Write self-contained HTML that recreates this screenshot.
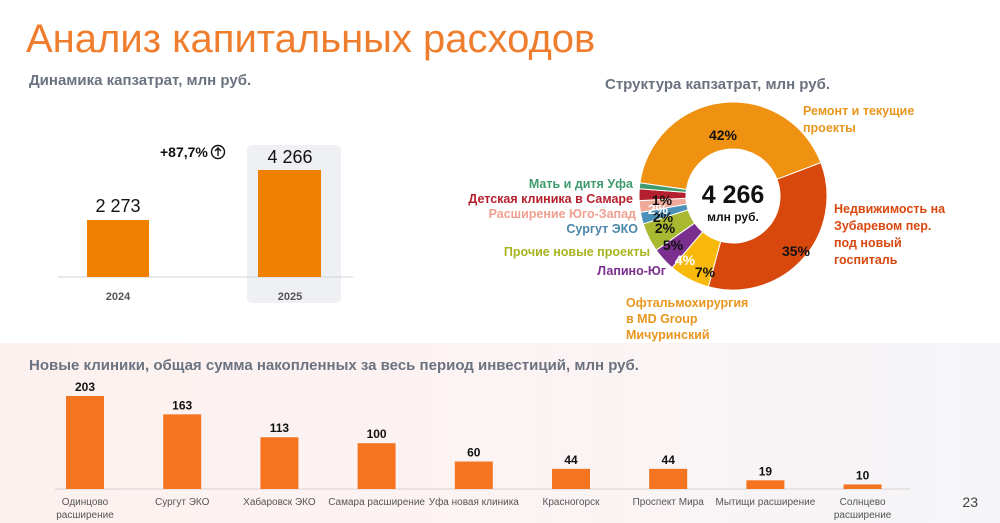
<!DOCTYPE html>
<html><head><meta charset="utf-8">
<style>
html,body{margin:0;padding:0}
body{width:1000px;height:523px;overflow:hidden;position:relative;background:#fff;font-family:"Liberation Sans",sans-serif}
.bg{position:absolute;left:0;top:343px;width:1000px;height:180px;
background:radial-gradient(ellipse 320px 110px at 330px 470px,rgba(248,150,100,0.45),rgba(248,170,140,0) 100%),
radial-gradient(ellipse 500px 150px at 200px 450px,rgba(250,190,170,0.35),rgba(255,255,255,0) 100%),
linear-gradient(90deg,#fdf1ef,#fcf3f3 50%,#f5f5f8);}
svg{position:absolute;left:0;top:0}
</style></head><body>
<div class="bg"></div>
<svg width="1000" height="523" viewBox="0 0 1000 523" font-family="Liberation Sans, sans-serif">
<text x="26" y="52" font-size="40" fill="#ef7d2e">Анализ капитальных расходов</text>
<text x="29" y="85" font-size="15" font-weight="bold" fill="#6b7380">Динамика капзатрат, млн руб.</text>
<rect x="247" y="145" width="94" height="158" rx="5" fill="#eef0f4"/>
<line x1="58" y1="277" x2="353" y2="277" stroke="#cfd3da" stroke-width="1"/>
<rect x="87" y="220" width="62" height="57" fill="#f08000"/>
<rect x="258" y="170" width="63" height="107" fill="#f08000"/>
<text x="118" y="212" font-size="18" text-anchor="middle" fill="#111">2 273</text>
<text x="290" y="163" font-size="18" text-anchor="middle" fill="#111">4 266</text>
<text x="160" y="157" font-size="14" font-weight="bold" fill="#111">+87,7%</text>
<circle cx="218" cy="152" r="6.5" fill="none" stroke="#111" stroke-width="1.4"/>
<path d="M218 156V148M215 151L218 148L221 151" fill="none" stroke="#111" stroke-width="1.4"/>
<text x="118" y="300" font-size="11" font-weight="bold" text-anchor="middle" fill="#555">2024</text>
<text x="290" y="300" font-size="11" font-weight="bold" text-anchor="middle" fill="#555">2025</text>

<text x="605" y="89" font-size="15" font-weight="bold" fill="#6b7380">Структура капзатрат, млн руб.</text>
<g id="donut"></g>
<text x="733" y="203" font-size="25" font-weight="bold" text-anchor="middle" fill="#111">4 266</text>
<text x="733" y="221" font-size="12" font-weight="bold" text-anchor="middle" fill="#111">млн руб.</text>
<g font-size="14" font-weight="bold" fill="#111">
<text x="723" y="140" text-anchor="middle">42%</text>
<text x="796" y="256" text-anchor="middle">35%</text>
<text x="705" y="277" text-anchor="middle">7%</text>
<text x="685" y="265" text-anchor="middle" fill="#fff">4%</text>
<text x="673" y="250" text-anchor="middle">5%</text>
<text x="665" y="233" text-anchor="middle">2%</text>
<text x="663" y="222" text-anchor="middle">2%</text>
<text x="658" y="214" text-anchor="middle" fill="#fff">2%</text>
<text x="662" y="205" text-anchor="middle">1%</text>
</g>
<g font-size="12.5" font-weight="bold">
<text x="803" y="115" fill="#e8961e">Ремонт и текущие</text>
<text x="803" y="132" fill="#e8961e">проекты</text>
<text x="834" y="213" fill="#d9480f">Недвижимость на</text>
<text x="834" y="230" fill="#d9480f">Зубаревом пер.</text>
<text x="834" y="247" fill="#d9480f">под новый</text>
<text x="834" y="264" fill="#d9480f">госпиталь</text>
<text x="626" y="307" fill="#e8961e">Офтальмохирургия</text>
<text x="626" y="323" fill="#e8961e">в MD Group</text>
<text x="626" y="339" fill="#e8961e">Мичуринский</text>
<text x="633" y="188" text-anchor="end" fill="#3f9a6d">Мать и дитя Уфа</text>
<text x="633" y="203" text-anchor="end" fill="#b5202e">Детская клиника в Самаре</text>
<text x="636" y="218" text-anchor="end" fill="#f0a090">Расширение Юго-Запад</text>
<text x="638" y="233" text-anchor="end" fill="#4a86a8">Сургут ЭКО</text>
<text x="650" y="256" text-anchor="end" fill="#a8b420">Прочие новые проекты</text>
<text x="666" y="275" text-anchor="end" fill="#7a2e8e">Лапино-Юг</text>
</g>

<text x="29" y="370" font-size="15" font-weight="bold" fill="#6b7380">Новые клиники, общая сумма накопленных за весь период инвестиций, млн руб.</text>
<line x1="55" y1="489" x2="910" y2="489" stroke="#d8d0d0" stroke-width="1"/>
<g id="bars"></g>
<text x="978" y="507" font-size="14" text-anchor="end" fill="#444">23</text>
</svg>
<script>
var ns="http://www.w3.org/2000/svg";
var cx=733,cy=196,R=94,r=47;
var sl=[[42,"#ef9212"],[35,"#d8480c"],[7,"#f8b90a"],[4,"#7a2e8e"],[5,"#a8b830"],[2,"#4a90b8"],[2,"#f0a898"],[2,"#b5202e"],[1,"#3f9a6d"]];
var a=-82,g=document.getElementById("donut");
function pt(rad,ang){var t=(ang-90)*Math.PI/180;return [cx+rad*Math.cos(t),cy+rad*Math.sin(t)];}
sl.forEach(function(s){var b=a+s[0]*3.6,l=(b-a)>180?1:0;
var p1=pt(R,a),p2=pt(R,b),p3=pt(r,b),p4=pt(r,a);
var p=document.createElementNS(ns,"path");
p.setAttribute("d","M"+p1+"A"+R+","+R+" 0 "+l+" 1 "+p2+"L"+p3+"A"+r+","+r+" 0 "+l+" 0 "+p4+"Z");
p.setAttribute("fill",s[1]);p.setAttribute("stroke","#fff");p.setAttribute("stroke-width","1");g.appendChild(p);a=b;});
var bars=[[203,"Одинцово","расширение"],[163,"Сургут ЭКО"],[113,"Хабаровск ЭКО"],[100,"Самара расширение"],[60,"Уфа новая клиника"],[44,"Красногорск"],[44,"Проспект Мира"],[19,"Мытищи расширение"],[10,"Солнцево","расширение"]];
var bg=document.getElementById("bars");
bars.forEach(function(b,i){var x=66+i*97.2,h=b[0]*0.458,w=38;
var rc=document.createElementNS(ns,"rect");rc.setAttribute("x",x);rc.setAttribute("y",489-h);rc.setAttribute("width",w);rc.setAttribute("height",h);rc.setAttribute("fill","#f47420");bg.appendChild(rc);
var t=document.createElementNS(ns,"text");t.setAttribute("x",x+w/2);t.setAttribute("y",489-h-5);t.setAttribute("font-size","12");t.setAttribute("font-weight","bold");t.setAttribute("text-anchor","middle");t.setAttribute("fill","#111");t.textContent=b[0];bg.appendChild(t);
for(var j=1;j<b.length;j++){var u=document.createElementNS(ns,"text");u.setAttribute("x",x+w/2);u.setAttribute("y",505+(j-1)*13);u.setAttribute("font-size","10");u.setAttribute("text-anchor","middle");u.setAttribute("fill","#555");u.textContent=b[j];bg.appendChild(u);}
});
</script>
</body></html>
